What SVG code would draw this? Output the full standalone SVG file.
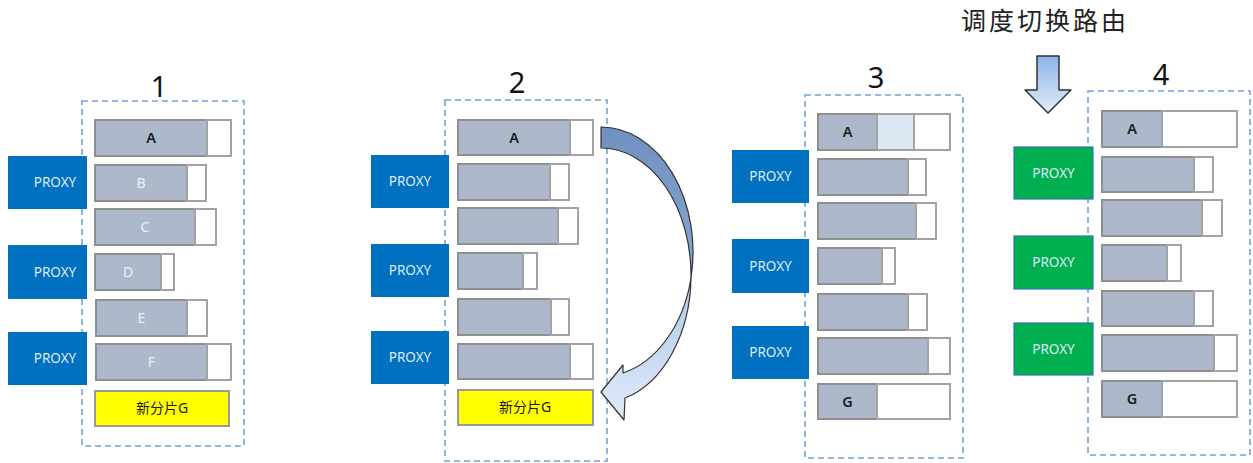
<svg xmlns="http://www.w3.org/2000/svg" width="1253" height="463" viewBox="0 0 1253 463">
  <style>
    .frame { fill: none; stroke: #72a3da; stroke-width: 1.6; stroke-dasharray: 6 4; }
    .used { fill: #adb9ca; stroke: #8f8f8f; stroke-width: 2; }
    .free { fill: #ffffff; stroke: #a3a3a3; stroke-width: 2; }
    .moving { fill: #dde8f5; stroke: #a3a3a3; stroke-width: 2; }
    .newshard { fill: #ffff00; stroke: #9a9a9a; stroke-width: 2; }
    .proxy { fill: #0070c0; }
    .proxy-new { fill: #00b050; stroke: #2e75b6; stroke-width: 1.2; }
    .ptxt { font-family: "Noto Sans", "Open Sans", sans-serif; font-size: 13.5px; fill: #dfe8f3; text-anchor: middle; }
    .lbl { font-family: "Noto Sans", "Open Sans", sans-serif; font-size: 14px; text-anchor: middle; }
    .dark { fill: #1a1a1a; font-weight: 600; font-size: 14.5px; }
    .light { fill: #eceff4; }
    .cjk { font-family: "Noto Sans", "Noto Sans CJK SC", sans-serif; font-size: 14px; fill: #1a1a1a; text-anchor: middle; }
    .num { font-family: "Noto Sans", "Open Sans", sans-serif; font-size: 29px; fill: #111; text-anchor: middle; }
    .title { font-family: "Noto Sans CJK SC", sans-serif; font-size: 25px; fill: #222; letter-spacing: 3px; }
  </style>
  <defs>
    <linearGradient id="downFill" x1="0" y1="0" x2="0" y2="1">
      <stop offset="0" stop-color="#8db4e6"/>
      <stop offset="1" stop-color="#e2ecf8"/>
    </linearGradient>
    <linearGradient id="backBand" x1="0" y1="0" x2="0" y2="1">
      <stop offset="0" stop-color="#7090bf"/>
      <stop offset="1" stop-color="#86a6d2"/>
    </linearGradient>
    <linearGradient id="frontBand" x1="0" y1="0" x2="0" y2="1">
      <stop offset="0" stop-color="#aec8ea"/>
      <stop offset="1" stop-color="#e0ebf8"/>
    </linearGradient>
  </defs>

  <!-- stage 1 -->
  <g id="stage1">
    <text class="num" x="159" y="97">1</text>
    <rect class="frame" x="82" y="101" width="162" height="345"/>
    <g id="s1-A"><rect class="used" x="95" y="120" width="112" height="36"/><rect class="free" x="207" y="120" width="24" height="36"/><text class="lbl dark" x="151" y="143">A</text></g>
    <g id="s1-B"><rect class="used" x="95" y="165" width="92" height="36"/><rect class="free" x="187" y="165" width="19" height="36"/><text class="lbl light" x="141" y="188">B</text></g>
    <g id="s1-C"><rect class="used" x="95" y="209" width="100" height="36"/><rect class="free" x="195" y="209" width="21" height="36"/><text class="lbl light" x="145" y="232">C</text></g>
    <g id="s1-D"><rect class="used" x="95" y="254" width="66" height="36"/><rect class="free" x="161" y="254" width="13" height="36"/><text class="lbl light" x="128" y="277">D</text></g>
    <g id="s1-E"><rect class="used" x="96" y="300" width="91" height="36"/><rect class="free" x="187" y="300" width="20" height="36"/><text class="lbl light" x="141.5" y="323">E</text></g>
    <g id="s1-F"><rect class="used" x="96" y="344" width="111" height="36"/><rect class="free" x="207" y="344" width="24" height="36"/><text class="lbl light" x="151.5" y="367">F</text></g>
    <g id="s1-G"><rect class="newshard" x="95" y="391" width="134" height="35"/><text class="cjk" x="162" y="413">新分片G</text></g>
    <g id="s1-proxy1"><rect class="proxy" x="8" y="156" width="79" height="53"/><text class="ptxt" x="55" y="187">PROXY</text></g>
    <g id="s1-proxy2"><rect class="proxy" x="8" y="245" width="79" height="54"/><text class="ptxt" x="55" y="277">PROXY</text></g>
    <g id="s1-proxy3"><rect class="proxy" x="8" y="332" width="79" height="53"/><text class="ptxt" x="55" y="363">PROXY</text></g>
  </g>

  <!-- stage 2 -->
  <g id="stage2">
    <text class="num" x="517" y="93">2</text>
    <rect class="frame" x="445" y="100" width="162" height="361"/>
    <g id="s2-A"><rect class="used" x="458" y="120" width="112" height="35"/><rect class="free" x="570" y="120" width="23" height="35"/><text class="lbl dark" x="514" y="142.5">A</text></g>
    <g id="s2-B"><rect class="used" x="458" y="164" width="92" height="36"/><rect class="free" x="550" y="164" width="19" height="36"/></g>
    <g id="s2-C"><rect class="used" x="458" y="208" width="100" height="36"/><rect class="free" x="558" y="208" width="20" height="36"/></g>
    <g id="s2-D"><rect class="used" x="458" y="253" width="65" height="36"/><rect class="free" x="523" y="253" width="14" height="36"/></g>
    <g id="s2-E"><rect class="used" x="458" y="299" width="93" height="36"/><rect class="free" x="551" y="299" width="18" height="36"/></g>
    <g id="s2-F"><rect class="used" x="458" y="344" width="112" height="35"/><rect class="free" x="570" y="344" width="23" height="35"/></g>
    <g id="s2-G"><rect class="newshard" x="458" y="390" width="135" height="35"/><text class="cjk" x="525" y="412">新分片G</text></g>
    <g id="s2-proxy1"><rect class="proxy" x="371" y="155" width="78" height="53"/><text class="ptxt" x="410" y="186">PROXY</text></g>
    <g id="s2-proxy2"><rect class="proxy" x="371" y="244" width="78" height="53"/><text class="ptxt" x="410" y="275">PROXY</text></g>
    <g id="s2-proxy3"><rect class="proxy" x="371" y="331" width="78" height="53"/><text class="ptxt" x="410" y="362">PROXY</text></g>
  </g>

  <!-- stage 3 -->
  <g id="stage3">
    <text class="num" x="876" y="88">3</text>
    <rect class="frame" x="805" y="95" width="158" height="363"/>
    <g id="s3-A"><rect class="used" x="818" y="114" width="59" height="36"/><rect class="moving" x="877" y="114" width="37" height="36"/><rect class="free" x="914" y="114" width="36" height="36"/><text class="lbl dark" x="847.5" y="137">A</text></g>
    <g id="s3-B"><rect class="used" x="818" y="159" width="90" height="36"/><rect class="free" x="908" y="159" width="18" height="36"/></g>
    <g id="s3-C"><rect class="used" x="818" y="203" width="98" height="36"/><rect class="free" x="916" y="203" width="20" height="36"/></g>
    <g id="s3-D"><rect class="used" x="818" y="248" width="64" height="36"/><rect class="free" x="882" y="248" width="13" height="36"/></g>
    <g id="s3-E"><rect class="used" x="818" y="294" width="90" height="36"/><rect class="free" x="908" y="294" width="19" height="36"/></g>
    <g id="s3-F"><rect class="used" x="818" y="338" width="110" height="36"/><rect class="free" x="928" y="338" width="22" height="36"/></g>
    <g id="s3-G"><rect class="used" x="818" y="384" width="59" height="35"/><rect class="free" x="877" y="384" width="73" height="35"/><text class="lbl dark" x="847.5" y="406.5">G</text></g>
    <g id="s3-proxy1"><rect class="proxy" x="732" y="150" width="77" height="53"/><text class="ptxt" x="770.5" y="181">PROXY</text></g>
    <g id="s3-proxy2"><rect class="proxy" x="732" y="239" width="77" height="54"/><text class="ptxt" x="770.5" y="271">PROXY</text></g>
    <g id="s3-proxy3"><rect class="proxy" x="732" y="326" width="77" height="53"/><text class="ptxt" x="770.5" y="357">PROXY</text></g>
  </g>

  <!-- stage 4 -->
  <g id="stage4">
    <text class="title" x="961" y="30">调度切换路由</text>
    <text class="num" x="1161" y="85">4</text>
    <rect class="frame" x="1088" y="91" width="162" height="364"/>
    <g id="s4-A"><rect class="used" x="1102" y="111" width="60" height="36"/><rect class="free" x="1162" y="111" width="75" height="36"/><text class="lbl dark" x="1132" y="134">A</text></g>
    <g id="s4-B"><rect class="used" x="1102" y="157" width="92" height="35"/><rect class="free" x="1194" y="157" width="19" height="35"/></g>
    <g id="s4-C"><rect class="used" x="1102" y="200" width="100" height="36"/><rect class="free" x="1202" y="200" width="20" height="36"/></g>
    <g id="s4-D"><rect class="used" x="1102" y="245" width="65" height="36"/><rect class="free" x="1167" y="245" width="14" height="36"/></g>
    <g id="s4-E"><rect class="used" x="1102" y="291" width="92" height="35"/><rect class="free" x="1194" y="291" width="19" height="35"/></g>
    <g id="s4-F"><rect class="used" x="1102" y="335" width="112" height="36"/><rect class="free" x="1214" y="335" width="23" height="36"/></g>
    <g id="s4-G"><rect class="used" x="1102" y="381" width="60" height="36"/><rect class="free" x="1162" y="381" width="75" height="36"/><text class="lbl dark" x="1132" y="404">G</text></g>
    <g id="s4-proxy1"><rect class="proxy-new" x="1014" y="147" width="79" height="52"/><text class="ptxt" x="1053.5" y="177.5">PROXY</text></g>
    <g id="s4-proxy2"><rect class="proxy-new" x="1014" y="236" width="79" height="53"/><text class="ptxt" x="1053.5" y="267">PROXY</text></g>
    <g id="s4-proxy3"><rect class="proxy-new" x="1014" y="323" width="79" height="52"/><text class="ptxt" x="1053.5" y="353.5">PROXY</text></g>
  </g>

  <!-- arrows -->
  <g id="connectors" stroke="#333" stroke-width="1.2" stroke-linejoin="round">
    <!-- shard A moves into the new shard: twisted curved arrow -->
    <path fill="url(#backBand)" d="M601,127 A92,125 0 0 1 691,278 A90,127.5 0 0 0 601,148 Z"/>
    <path fill="url(#frontBand)" d="M691,278 A90,127.5 0 0 1 625,398 L624,420 L601,392 L623,365 L623,373 A92,125 0 0 0 691,278 Z"/>
    <!-- route switch -->
    <path fill="url(#downFill)" stroke-width="1.5" d="M1037,56 L1059,56 L1059,90 L1071,90 L1048,113 L1025,90 L1037,90 Z"/>
  </g>
</svg>
